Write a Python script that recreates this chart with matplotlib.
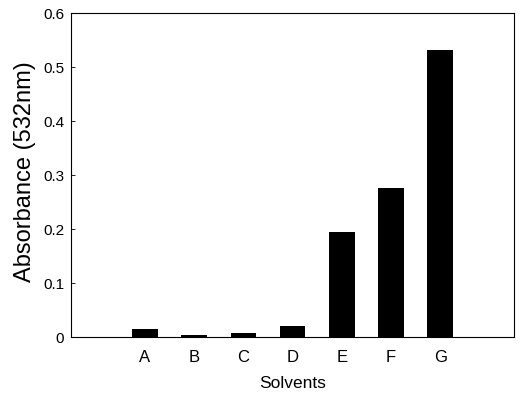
import matplotlib
matplotlib.use("Agg")
import matplotlib.pyplot as plt

# data
solvents = ["A", "B", "C", "D", "E", "F", "G"]
absorbance = [0.016, 0.004, 0.007, 0.021, 0.194, 0.277, 0.532]
positions = list(range(1, len(solvents) + 1))
yticks = [0, 0.1, 0.2, 0.3, 0.4, 0.5, 0.6]
ytick_labels = ["0", "0.1", "0.2", "0.3", "0.4", "0.5", "0.6"]

plt.rcParams["font.family"] = ["Liberation Sans", "DejaVu Sans"]

fig = plt.figure(figsize=(5.31, 3.99), dpi=100)
ax = fig.add_axes([0.134, 0.155, 0.834, 0.812])

ax.bar(positions, absorbance, width=0.52, color="black")

ax.set_xlim(-0.5, 8.5)
ax.set_ylim(0, 0.6)
ax.set_xticks(positions)
ax.set_xticklabels(solvents, fontsize=12)
ax.set_yticks(yticks)
ax.set_yticklabels(ytick_labels, fontsize=11)
ax.tick_params(axis="x", length=0, pad=9.5)
ax.tick_params(axis="y", direction="in", length=3, width=0.6, pad=5)
for s in ax.spines.values():
    s.set_linewidth(0.8)

ax.set_xlabel("Solvents", fontsize=12.5, labelpad=8)
ax.set_ylabel("Absorbance (532nm)", fontsize=17)
ax.yaxis.set_label_coords(-0.08, 0.51)

fig.savefig("out.png", dpi=100)
